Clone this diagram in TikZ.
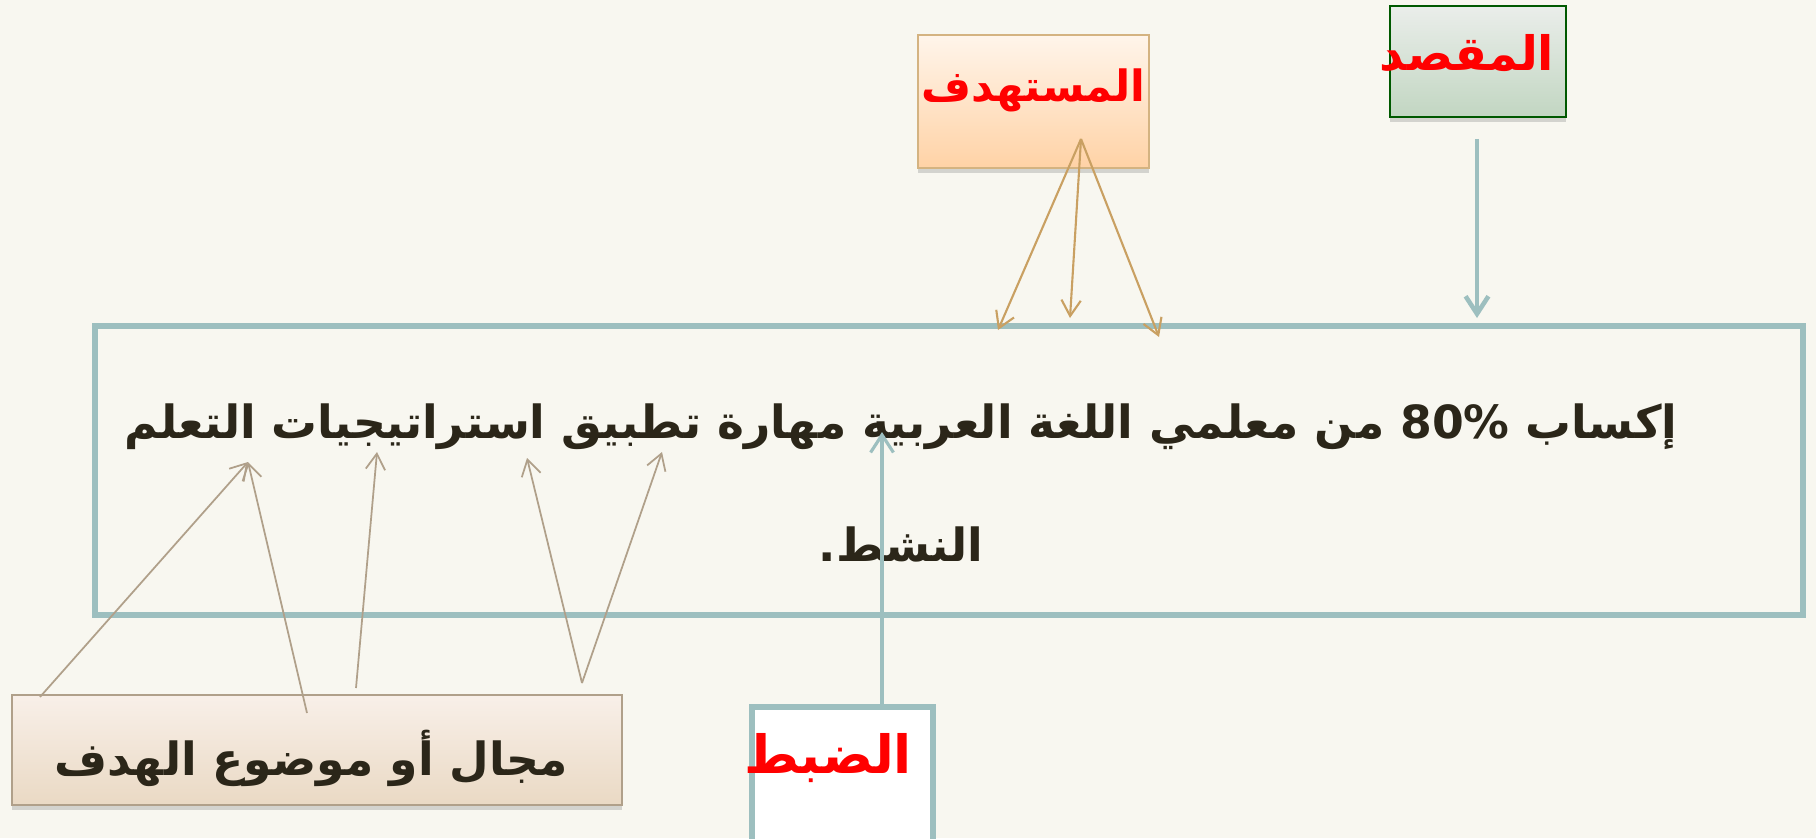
\documentclass[tikz,border=0pt]{standalone}
\usepackage{fontspec}
\usepackage{tikz}
\usetikzlibrary{arrows.meta, shadows}
\TeXXeTstate=1
\newfontfamily\arabicfont[Script=Arabic]{DejaVu Sans}
\definecolor{bgcol}{HTML}{F8F7F0}
\definecolor{tealcol}{HTML}{9DBFBF}
\definecolor{tancol}{HTML}{C9A062}
\definecolor{greytan}{HTML}{B0A08A}
\definecolor{inkcol}{HTML}{2B2619}
\newcommand{\arsize}[1]{\arabicfont\bfseries\fontsize{#1}{#1}\selectfont}
\tikzstyle{redtext} = [text=red]
\tikzstyle{darktext} = [text=inkcol, font=\arsize{26}]
\tikzstyle{boxshadow} = [drop shadow={shadow xshift=0pt, shadow yshift=-3pt, opacity=0.3}]
\tikzstyle{tanline} = [draw=tancol, line width=1.2pt, -{Straight Barb[length=9pt, width=11pt]}]
\tikzstyle{greyline} = [draw=greytan, line width=1pt, -{Straight Barb[length=9pt, width=11pt]}]
\tikzstyle{tealline} = [draw=tealcol, -{Straight Barb[length=10pt, width=13pt]}]

\begin{document}
\begin{tikzpicture}
			\useasboundingbox (0,0) rectangle (36.32,16.76);
			\fill [bgcol] (0,0) rectangle (36.32,16.76);

			% the goal statement
			\node [draw=tealcol, line width=3.6pt, minimum width=34.16cm, minimum height=5.78cm] (goal) at (18.98,7.35) {};
			\node [darktext] (l1) at (18.02,8.22) {\beginR إكساب \beginL80\%\endL{} من معلمي اللغة العربية مهارة تطبيق استراتيجيات التعلم\endR};
			\node [darktext] (l2) at (18.02,5.88) {\beginR النشط.\endR};

			% boxes around it
			\node [draw=tancol!80, line width=1pt, top color=orange!8, bottom color=orange!35, boxshadow, minimum width=4.62cm, minimum height=2.66cm,
				label={[redtext, font=\arsize{24.5}, yshift=0.22cm]center:{\beginR المستهدف\endR}}] (target) at (20.67,14.73) {};
			\node [draw=green!35!black, line width=1pt, top color=green!8!gray!15, bottom color=green!20!gray!40, boxshadow, minimum width=3.52cm, minimum height=2.22cm,
				label={[redtext, font=\arsize{27}, xshift=-0.22cm, yshift=0.17cm]center:{\beginR المقصد\endR}}] (aim) at (29.56,15.53) {};
			\node [draw=greytan, line width=1pt, top color=red!3!bgcol, bottom color=brown!25!bgcol, boxshadow, minimum width=12.2cm, minimum height=2.2cm,
				label={[darktext, xshift=-0.12cm, yshift=-0.16cm]center:{\beginR مجال أو موضوع الهدف\endR}}] (field) at (6.34,1.76) {};
			\node [draw=tealcol, line width=3.2pt, fill=white, minimum width=3.62cm, minimum height=2.86cm,
				label={[redtext, font=\arsize{30}, xshift=-0.29cm, yshift=0.41cm]center:{\beginR الضبط\endR}}] (control) at (16.85,1.19) {};

			% arrow ends
			\coordinate (t0) at (21.62,13.98);
			\coordinate (t1) at (19.96,10.16);
			\coordinate (t2) at (21.40,10.40);
			\coordinate (t3) at (23.18,10.02);
			\coordinate (a0) at (29.54,13.98);
			\coordinate (a1) at (29.54,10.40);
			\coordinate (f1) at (0.80,2.82);
			\coordinate (f2) at (6.14,2.50);
			\coordinate (f3) at (7.12,3.00);
			\coordinate (f4) at (11.64,3.10);
			\coordinate (w1) at (4.96,7.52);
			\coordinate (w2) at (7.54,7.72);
			\coordinate (w3) at (10.54,7.60);
			\coordinate (w4) at (13.24,7.72);
			\coordinate (c1) at (17.64,8.12);

			\path [tanline] (t0) -- (t1);
			\path [tanline] (t0) -- (t2);
			\path [tanline] (t0) -- (t3);
			\path [tealline, line width=2.6pt] (a0) -- (a1);
			\path [greyline] (f1) -- (w1);
			\path [greyline] (f2) -- (w1);
			\path [greyline] (f3) -- (w2);
			\path [greyline] (f4) -- (w3);
			\path [greyline] (f4) -- (w4);
			\path [tealline, line width=1.8pt] (control.north -| c1) -- (c1);
		\end{tikzpicture}
\end{document}
